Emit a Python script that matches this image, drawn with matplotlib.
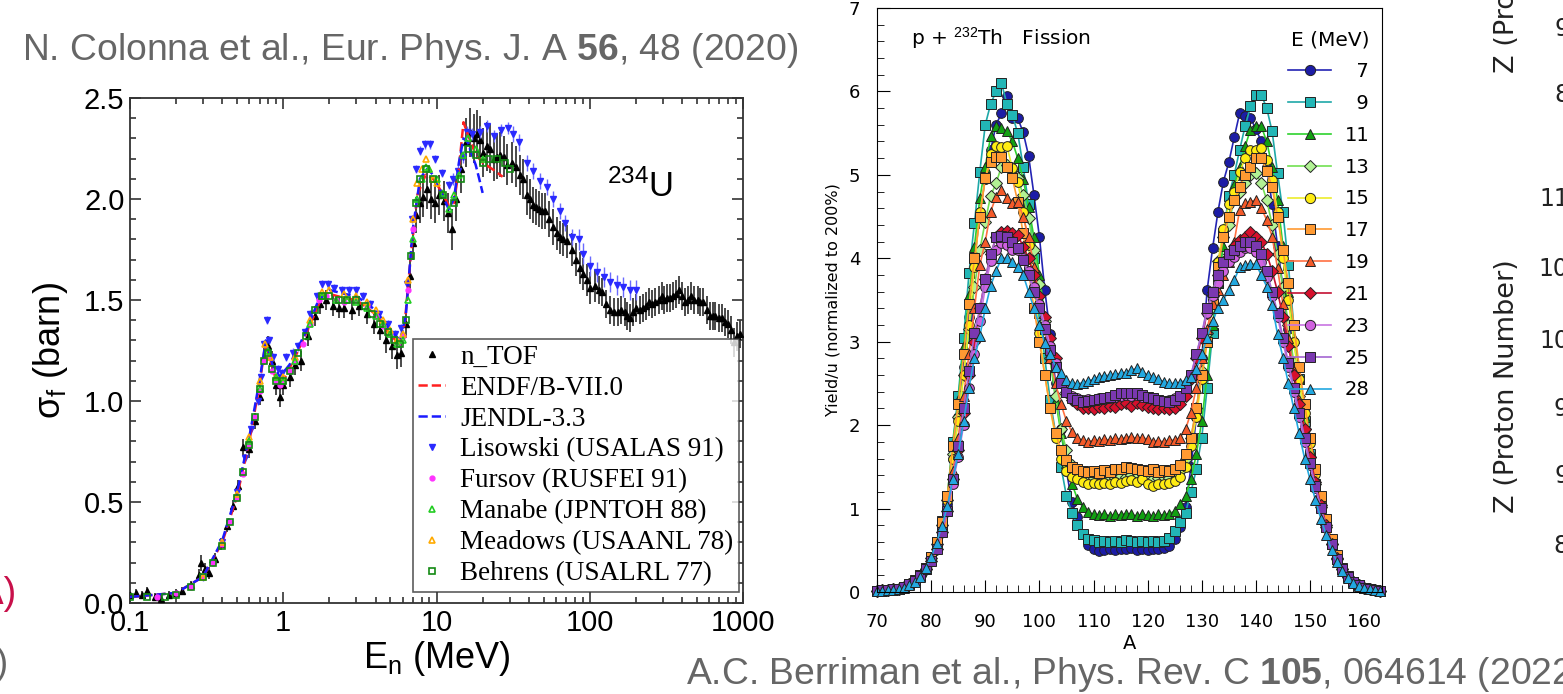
import matplotlib.pyplot as plt
from matplotlib.ticker import MultipleLocator, FuncFormatter, LogLocator, NullFormatter

plt.rcParams['mathtext.fontset'] = 'custom'
plt.rcParams['mathtext.rm'] = 'Liberation Sans'
plt.rcParams['mathtext.it'] = 'Liberation Sans:italic'
plt.rcParams['mathtext.bf'] = 'Liberation Sans:bold'

# ---------------- left panel: 234U(n,f) cross section ----------------
ntof_e = [0.1, 0.11, 0.12, 0.13, 0.145, 0.16, 0.18, 0.2, 0.22, 0.25,
          0.28, 0.29, 0.31, 0.33, 0.36, 0.39, 0.43, 0.47, 0.51, 0.55,
          0.6, 0.65, 0.7, 0.75, 0.8, 0.85, 0.9, 0.95, 1.0, 1.1,
          1.2, 1.3, 1.45, 1.6, 1.75, 1.9, 2.1, 2.3, 2.5, 2.8,
          3.1, 3.5, 3.9, 4.3, 4.7, 5.1, 5.5, 5.9, 6.3, 6.7,
          7.0, 7.4, 7.8, 8.2, 8.7, 9.2, 9.8, 10.4, 11.2, 11.8,
          12.6, 13.5, 14.5, 15.5, 16.6, 17.5, 18.3, 19.2, 20.1, 21.3,
          22.4, 23.6, 24.8, 26, 27.4, 29, 30.9, 33, 35, 36.8,
          38.7, 40.6, 42.8, 44.8, 46.8, 48.9, 51, 54, 57.7, 61,
          64, 67, 70.7, 76.4, 81, 85.8, 90, 95.4, 101, 108,
          115, 121, 128, 135, 143, 153, 161, 170, 176, 183,
          191, 200, 212, 224, 234, 245, 256, 268, 281, 295,
          307, 320, 335, 350, 367, 385, 402, 420, 440, 460,
          482, 505, 527, 550, 580, 610, 635, 660, 695, 730,
          765, 800, 840, 880, 920, 960]
ntof_xs = [0.04, 0.05, 0.04, 0.06, 0.03, 0.02, 0.04, 0.05, 0.06, 0.09,
           0.14, 0.20, 0.17, 0.15, 0.22, 0.29, 0.38, 0.48, 0.58, 0.77,
           0.76, 0.90, 1.02, 1.22, 1.27, 1.20, 1.08, 1.02, 1.08, 1.12,
           1.18, 1.20, 1.32, 1.42, 1.48, 1.50, 1.47, 1.46, 1.46, 1.45,
           1.47, 1.43, 1.38, 1.35, 1.30, 1.27, 1.23, 1.24, 1.38, 1.62,
           1.78, 1.92, 1.98, 2.01, 2.05, 2.00, 1.98, 2.02, 1.99, 1.93,
           1.85, 2.00, 2.15, 2.28, 2.33, 2.30, 2.32, 2.29, 2.23, 2.26,
           2.25, 2.20, 2.21, 2.22, 2.21, 2.17, 2.18, 2.16, 2.12, 2.10,
           2.02, 2.00, 1.97, 1.96, 1.95, 1.94, 1.94, 1.90, 1.86, 1.83,
           1.81, 1.80, 1.79, 1.75, 1.70, 1.66, 1.63, 1.60, 1.56, 1.57,
           1.55, 1.54, 1.48, 1.45, 1.44, 1.44, 1.45, 1.44, 1.42, 1.41,
           1.44, 1.46, 1.45, 1.46, 1.47, 1.49, 1.48, 1.49, 1.50, 1.52,
           1.50, 1.51, 1.51, 1.52, 1.53, 1.55, 1.52, 1.49, 1.50, 1.52,
           1.50, 1.50, 1.49, 1.49, 1.45, 1.42, 1.42, 1.42, 1.41, 1.41,
           1.39, 1.38, 1.35, 1.29, 1.32, 1.33]
ntof_err = [0.02, 0.02, 0.02, 0.02, 0.02, 0.02, 0.02, 0.02, 0.02, 0.02,
            0.03, 0.04, 0.03, 0.03, 0.03, 0.03, 0.03, 0.03, 0.03, 0.04,
            0.04, 0.04, 0.04, 0.04, 0.05, 0.05, 0.05, 0.05, 0.05, 0.05,
            0.05, 0.05, 0.05, 0.05, 0.05, 0.05, 0.05, 0.05, 0.05, 0.05,
            0.05, 0.05, 0.05, 0.05, 0.06, 0.06, 0.07, 0.07, 0.07, 0.08,
            0.08, 0.09, 0.10, 0.10, 0.10, 0.10, 0.10, 0.10, 0.10, 0.10,
            0.10, 0.11, 0.12, 0.12, 0.12, 0.12, 0.12, 0.12, 0.12, 0.12,
            0.12, 0.11, 0.11, 0.11, 0.10, 0.10, 0.10, 0.10, 0.10, 0.10,
            0.10, 0.10, 0.09, 0.09, 0.09, 0.09, 0.09, 0.09, 0.09, 0.08,
            0.08, 0.08, 0.08, 0.08, 0.08, 0.08, 0.08, 0.08, 0.08, 0.08,
            0.07, 0.07, 0.07, 0.07, 0.07, 0.07, 0.07, 0.07, 0.07, 0.07,
            0.07, 0.07, 0.07, 0.07, 0.07, 0.07, 0.07, 0.07, 0.07, 0.07,
            0.07, 0.07, 0.07, 0.07, 0.07, 0.07, 0.07, 0.07, 0.07, 0.07,
            0.07, 0.07, 0.07, 0.07, 0.07, 0.07, 0.07, 0.07, 0.07, 0.07,
            0.07, 0.07, 0.07, 0.07, 0.07, 0.07]

endf_e = [0.1, 0.2, 0.3, 0.4, 0.5, 0.6, 0.7, 0.76, 0.8, 0.9, 1.0, 1.2, 1.5, 1.8, 2.0,
          2.5, 3.0, 4.0, 5.0, 5.7, 6.2, 6.8, 7.5, 8.5, 9.5, 10.5, 12, 13, 14, 15,
          16, 18, 20, 24, 27]
endf_xs = [0.03, 0.05, 0.13, 0.30, 0.53, 0.80, 1.08, 1.27, 1.24, 1.10, 1.10, 1.22, 1.38, 1.52, 1.53,
           1.51, 1.50, 1.43, 1.33, 1.28, 1.38, 1.72, 2.02, 2.12, 2.10, 2.05, 1.97, 1.98, 2.15, 2.38,
           2.32, 2.22, 2.18, 2.14, 2.11]

jendl_e = [0.1, 0.2, 0.3, 0.4, 0.5, 0.6, 0.7, 0.77, 0.85, 0.95, 1.1, 1.4, 1.7, 2.0, 2.5,
           3.0, 4.0, 5.0, 5.8, 6.3, 7.0, 7.8, 8.7, 9.5, 10.5, 12, 13, 14, 15, 16,
           17, 18, 19, 20]
jendl_xs = [0.03, 0.05, 0.13, 0.31, 0.55, 0.82, 1.10, 1.30, 1.18, 1.12, 1.18, 1.34, 1.50, 1.55, 1.53,
            1.52, 1.45, 1.35, 1.30, 1.42, 1.85, 2.10, 2.15, 2.12, 2.05, 1.95, 2.00, 2.18, 2.30, 2.28,
            2.22, 2.17, 2.10, 2.03]

lis_e = [0.3, 0.4, 0.5, 0.56, 0.62, 0.68, 0.72, 0.75, 0.78, 0.81,
         0.86, 0.92, 0.98, 1.05, 1.15, 1.25, 1.38, 1.5, 1.65, 1.8,
         1.95, 2.15, 2.4, 2.7, 3.0, 3.3, 3.7, 4.2, 4.8, 5.4,
         5.9, 6.4, 6.9, 7.4, 7.8, 8.4, 9.1, 9.8, 10.8, 12.0,
         12.8, 13.9, 14.9, 15.9, 17.0, 19.2, 21.3, 23.9, 26.5, 29.3,
         31.6, 34.6, 38.7, 42.8, 47.3, 52.3, 57.7, 64, 68.8, 76.4,
         84.5, 91, 101, 111, 123, 135, 150, 166, 183, 200]
lis_xs = [0.13, 0.30, 0.55, 0.72, 0.86, 1.00, 1.12, 1.28, 1.40, 1.30,
          1.22, 1.16, 1.14, 1.22, 1.24, 1.27, 1.34, 1.43, 1.52, 1.58,
          1.58, 1.56, 1.55, 1.55, 1.55, 1.52, 1.48, 1.43, 1.38, 1.33,
          1.36, 1.58, 1.90, 2.15, 2.24, 2.27, 2.27, 2.20, 2.13, 2.07,
          2.10, 2.14, 2.21, 2.33, 2.32, 2.33, 2.36, 2.31, 2.34, 2.35,
          2.32, 2.28, 2.18, 2.14, 2.09, 2.06, 2.00, 1.94, 1.88, 1.81,
          1.80, 1.73, 1.67, 1.64, 1.615, 1.59, 1.575, 1.566, 1.55, 1.55]
lis_err = [0.02, 0.02, 0.02, 0.02, 0.02, 0.02, 0.02, 0.02, 0.02, 0.02,
           0.02, 0.02, 0.02, 0.02, 0.02, 0.02, 0.02, 0.02, 0.02, 0.02,
           0.02, 0.02, 0.02, 0.02, 0.02, 0.02, 0.02, 0.02, 0.02, 0.02,
           0.02, 0.02, 0.02, 0.02, 0.02, 0.02, 0.02, 0.02, 0.02, 0.02,
           0.03, 0.03, 0.03, 0.03, 0.03, 0.03, 0.03, 0.03, 0.03, 0.03,
           0.04, 0.04, 0.04, 0.04, 0.04, 0.04, 0.04, 0.04, 0.04, 0.04,
           0.05, 0.05, 0.05, 0.05, 0.05, 0.05, 0.05, 0.05, 0.05, 0.05]

fursov_e = [0.15, 0.2, 0.25, 0.3, 0.35, 0.4, 0.45, 0.5, 0.55, 0.6,
            0.65, 0.7, 0.75, 0.8, 0.85, 0.9, 0.95, 1.0, 1.1, 1.2,
            1.35, 1.5, 1.7, 1.9, 2.2, 2.5, 3.0, 3.5, 4.0, 4.5,
            5.0, 5.5, 6.0, 6.5, 7.0]
fursov_xs = [0.03, 0.05, 0.08, 0.13, 0.20, 0.29, 0.40, 0.52, 0.64, 0.78,
             0.92, 1.05, 1.20, 1.22, 1.15, 1.10, 1.08, 1.10, 1.15, 1.20,
             1.28, 1.38, 1.50, 1.52, 1.50, 1.49, 1.50, 1.47, 1.42, 1.37,
             1.33, 1.28, 1.32, 1.55, 1.85]

manabe_e = [0.6, 0.7, 0.8, 0.9, 1.0, 1.2, 1.5, 1.8, 2.2, 2.6,
            3.0, 3.5, 4.0, 4.5, 5.0, 5.5, 6.0, 6.5, 7.0, 7.5,
            8.0, 8.5, 9.0, 10, 11, 12, 13, 14, 15, 16, 18, 20]
manabe_xs = [0.80, 1.06, 1.25, 1.12, 1.10, 1.20, 1.38, 1.52, 1.50, 1.50,
             1.49, 1.46, 1.42, 1.38, 1.33, 1.28, 1.30, 1.50, 1.80, 2.00,
             2.10, 2.16, 2.15, 2.10, 2.03, 1.95, 2.02, 2.12, 2.22, 2.30, 2.25, 2.20]

meadows_e = [0.3, 0.4, 0.5, 0.6, 0.7, 0.76, 0.82, 0.9, 1.0, 1.2,
             1.5, 1.8, 2.0, 2.5, 3.0, 3.5, 4.0, 4.5, 5.0, 5.5,
             6.0, 6.5, 7.0, 7.5, 8.0, 8.5, 9.0, 9.5, 10]
meadows_xs = [0.13, 0.30, 0.54, 0.82, 1.10, 1.28, 1.22, 1.12, 1.12, 1.22,
              1.40, 1.54, 1.55, 1.53, 1.52, 1.49, 1.45, 1.40, 1.35, 1.30,
              1.33, 1.60, 1.90, 2.08, 2.15, 2.20, 2.15, 2.10, 2.08]

behrens_e = [0.1, 0.13, 0.17, 0.2, 0.25, 0.3, 0.35, 0.4, 0.45, 0.5,
             0.55, 0.6, 0.65, 0.7, 0.75, 0.8, 0.85, 0.9, 1.0, 1.1,
             1.25, 1.4, 1.6, 1.8, 2.0, 2.3, 2.6, 3.0, 3.4, 3.8,
             4.3, 4.8, 5.3, 5.8, 6.3, 6.8, 7.3, 7.8, 8.5, 9.5,
             11, 13, 14.5, 16, 18, 20, 22, 25, 28, 30]
behrens_xs = [0.03, 0.03, 0.03, 0.04, 0.08, 0.13, 0.20, 0.28, 0.40, 0.52,
              0.65, 0.78, 0.92, 1.06, 1.20, 1.24, 1.16, 1.10, 1.10, 1.15,
              1.24, 1.32, 1.45, 1.52, 1.52, 1.50, 1.50, 1.50, 1.47, 1.43,
              1.38, 1.34, 1.30, 1.28, 1.40, 1.72, 1.98, 2.10, 2.15, 2.10,
              2.02, 1.98, 2.10, 2.25, 2.22, 2.18, 2.20, 2.20, 2.18, 2.15]

# ---------------- middle panel: p + 232Th mass yields ----------------
mass_a = list(range(70, 164))
energies = [7, 9, 11, 13, 15, 17, 19, 21, 23, 25, 28]

y7 = [0.01, 0.01, 0.02, 0.03, 0.04, 0.06, 0.09, 0.13, 0.19, 0.28,
      0.40, 0.56, 0.78, 1.05, 1.60, 2.10, 2.70, 3.30, 3.95, 4.55,
      4.95, 5.30, 5.60, 5.74, 5.94, 5.68, 5.68, 5.51, 5.23, 4.76,
      4.26, 3.62, 3.09, 2.50, 1.95, 1.45, 1.08, 0.90, 0.70, 0.56,
      0.52, 0.49, 0.50, 0.51, 0.50, 0.52, 0.51, 0.53, 0.50, 0.51,
      0.50, 0.52, 0.51, 0.53, 0.55, 0.63, 0.78, 1.02, 1.50, 2.10,
      2.80, 3.62, 4.12, 4.56, 4.92, 5.15, 5.45, 5.74, 5.70, 5.68,
      5.55, 5.40, 5.10, 4.65, 4.15, 3.65, 3.15, 2.70, 2.30, 1.95,
      1.62, 1.32, 1.05, 0.80, 0.58, 0.40, 0.27, 0.18, 0.12, 0.08,
      0.05, 0.03, 0.02, 0.01]
y9 = [0.01, 0.02, 0.02, 0.03, 0.04, 0.06, 0.09, 0.13, 0.20, 0.29,
      0.42, 0.60, 0.85, 1.15, 1.80, 2.35, 3.05, 3.82, 4.42, 5.04,
      5.60, 5.85, 6.00, 6.10, 5.85, 5.72, 5.50, 5.10, 4.65, 4.00,
      3.35, 2.80, 2.30, 1.90, 1.50, 1.15, 0.95, 0.80, 0.70, 0.64,
      0.62, 0.60, 0.61, 0.60, 0.61, 0.60, 0.62, 0.61, 0.60, 0.61,
      0.60, 0.61, 0.60, 0.61, 0.65, 0.73, 0.84, 0.95, 1.20, 1.47,
      1.85, 2.45, 3.10, 3.70, 4.30, 4.75, 5.00, 5.30, 5.58, 5.82,
      5.96, 5.96, 5.80, 5.52, 5.02, 4.55, 3.92, 3.20, 2.55, 2.05,
      1.65, 1.30, 1.02, 0.78, 0.57, 0.40, 0.27, 0.18, 0.12, 0.08,
      0.05, 0.03, 0.02, 0.01]
y11 = [0.01, 0.02, 0.02, 0.03, 0.04, 0.06, 0.09, 0.14, 0.20, 0.29,
       0.42, 0.60, 0.84, 1.15, 1.78, 2.30, 2.95, 3.56, 4.14, 4.72,
       5.10, 5.46, 5.58, 5.56, 5.52, 5.40, 5.20, 4.95, 4.62, 4.25,
       3.80, 3.30, 2.80, 2.30, 1.90, 1.55, 1.30, 1.12, 1.02, 0.96,
       0.93, 0.92, 0.94, 0.91, 0.93, 0.92, 0.94, 0.93, 0.91, 0.93,
       0.92, 0.91, 0.93, 0.92, 0.94, 0.97, 1.05, 1.15, 1.35, 1.65,
       2.05, 2.60, 3.20, 3.70, 4.15, 4.50, 4.88, 5.10, 5.34, 5.54,
       5.58, 5.58, 5.40, 5.10, 4.70, 4.15, 3.60, 3.05, 2.55, 2.10,
       1.70, 1.35, 1.05, 0.80, 0.58, 0.40, 0.27, 0.18, 0.12, 0.08,
       0.05, 0.03, 0.02, 0.01]
y13 = [0.01, 0.02, 0.02, 0.03, 0.04, 0.06, 0.09, 0.13, 0.19, 0.28,
       0.41, 0.58, 0.80, 1.10, 1.65, 2.10, 2.60, 3.15, 3.65, 4.10,
       4.44, 4.75, 4.90, 5.10, 5.12, 5.06, 4.96, 4.76, 4.48, 4.10,
       3.69, 3.25, 2.80, 2.35, 1.95, 1.70, 1.52, 1.45, 1.40, 1.38,
       1.37, 1.38, 1.36, 1.38, 1.37, 1.39, 1.38, 1.40, 1.38, 1.37,
       1.38, 1.36, 1.37, 1.38, 1.37, 1.40, 1.45, 1.60, 1.85, 2.20,
       2.65, 3.10, 3.55, 3.97, 4.25, 4.40, 4.72, 4.80, 4.90, 5.00,
       5.02, 4.90, 4.70, 4.40, 4.05, 3.65, 3.20, 2.75, 2.35, 1.95,
       1.62, 1.30, 1.02, 0.78, 0.57, 0.40, 0.27, 0.18, 0.12, 0.08,
       0.05, 0.03, 0.02, 0.01]
y15 = [0.01, 0.02, 0.02, 0.03, 0.04, 0.06, 0.09, 0.13, 0.19, 0.28,
       0.41, 0.58, 0.80, 1.10, 1.60, 2.05, 2.60, 3.20, 3.90, 4.55,
       4.95, 5.25, 5.35, 5.33, 5.35, 5.08, 4.92, 4.56, 4.16, 3.65,
       3.10, 2.60, 2.20, 1.85, 1.60, 1.45, 1.38, 1.35, 1.32, 1.30,
       1.31, 1.29, 1.31, 1.30, 1.32, 1.31, 1.33, 1.34, 1.32, 1.35,
       1.30, 1.27, 1.29, 1.30, 1.31, 1.33, 1.38, 1.50, 1.75, 2.10,
       2.55, 3.00, 3.50, 3.95, 4.35, 4.65, 4.80, 5.03, 5.20, 5.30,
       5.30, 5.32, 5.18, 4.94, 4.56, 4.00, 3.50, 3.00, 2.55, 2.15,
       1.78, 1.42, 1.10, 0.84, 0.60, 0.42, 0.28, 0.18, 0.12, 0.08,
       0.05, 0.03, 0.02, 0.01]
y17 = [0.01, 0.02, 0.02, 0.03, 0.04, 0.06, 0.09, 0.14, 0.20, 0.29,
       0.42, 0.60, 0.84, 1.15, 1.75, 2.25, 2.85, 3.45, 4.00, 4.49,
       4.96, 5.16, 5.22, 5.22, 5.10, 4.96, 4.68, 4.30, 3.85, 3.40,
       3.00, 2.60, 2.20, 1.90, 1.70, 1.58, 1.50, 1.47, 1.45, 1.44,
       1.45, 1.43, 1.46, 1.44, 1.48, 1.47, 1.50, 1.49, 1.48, 1.46,
       1.45, 1.47, 1.44, 1.46, 1.45, 1.47, 1.52, 1.65, 1.85, 2.20,
       2.60, 3.00, 3.45, 3.90, 4.25, 4.50, 4.70, 4.85, 5.00, 5.10,
       5.20, 5.20, 5.05, 4.85, 4.50, 4.10, 3.70, 3.20, 2.70, 2.25,
       1.85, 1.48, 1.15, 0.87, 0.63, 0.44, 0.29, 0.19, 0.12, 0.08,
       0.05, 0.03, 0.02, 0.01]
y19 = [0.01, 0.02, 0.02, 0.03, 0.04, 0.06, 0.09, 0.13, 0.19, 0.27,
       0.38, 0.55, 0.75, 1.00, 1.45, 1.85, 2.35, 2.85, 3.40, 3.92,
       4.20, 4.56, 4.74, 4.82, 4.72, 4.66, 4.68, 4.50, 4.25, 3.90,
       3.50, 3.15, 2.80, 2.50, 2.25, 2.05, 1.92, 1.85, 1.82, 1.80,
       1.82, 1.81, 1.83, 1.82, 1.84, 1.83, 1.85, 1.86, 1.84, 1.85,
       1.83, 1.80, 1.81, 1.80, 1.82, 1.82, 1.85, 1.95, 2.15, 2.45,
       2.80, 3.15, 3.45, 3.62, 3.80, 3.96, 4.20, 4.58, 4.66, 4.68,
       4.70, 4.60, 4.46, 4.26, 3.88, 3.45, 3.05, 2.65, 2.30, 1.95,
       1.62, 1.32, 1.04, 0.80, 0.58, 0.41, 0.28, 0.18, 0.12, 0.08,
       0.05, 0.03, 0.02, 0.01]
y21 = [0.01, 0.02, 0.02, 0.03, 0.04, 0.06, 0.09, 0.13, 0.19, 0.27,
       0.37, 0.52, 0.72, 0.97, 1.35, 1.70, 2.15, 2.60, 3.00, 3.40,
       3.75, 4.05, 4.25, 4.32, 4.33, 4.30, 4.28, 4.14, 4.00, 3.80,
       3.55, 3.30, 3.05, 2.80, 2.55, 2.40, 2.30, 2.25, 2.20, 2.21,
       2.19, 2.22, 2.20, 2.23, 2.22, 2.25, 2.26, 2.23, 2.27, 2.24,
       2.22, 2.21, 2.19, 2.20, 2.19, 2.21, 2.25, 2.35, 2.55, 2.80,
       3.05, 3.35, 3.60, 3.80, 3.95, 4.05, 4.15, 4.22, 4.26, 4.32,
       4.26, 4.20, 4.05, 3.85, 3.60, 3.30, 2.95, 2.60, 2.25, 1.95,
       1.62, 1.32, 1.04, 0.80, 0.58, 0.41, 0.28, 0.18, 0.12, 0.08,
       0.05, 0.03, 0.02, 0.01]
y23 = [0.01, 0.02, 0.02, 0.03, 0.04, 0.06, 0.09, 0.13, 0.19, 0.27,
       0.37, 0.52, 0.72, 0.97, 1.30, 1.62, 2.00, 2.45, 2.85, 3.25,
       3.65, 3.97, 4.10, 4.18, 4.16, 4.10, 4.10, 4.00, 3.85, 3.65,
       3.45, 3.20, 2.95, 2.75, 2.55, 2.42, 2.35, 2.32, 2.30, 2.31,
       2.30, 2.32, 2.31, 2.33, 2.34, 2.35, 2.36, 2.35, 2.36, 2.34,
       2.33, 2.31, 2.30, 2.29, 2.30, 2.32, 2.35, 2.45, 2.60, 2.85,
       3.10, 3.35, 3.55, 3.70, 3.85, 3.95, 4.02, 4.08, 4.12, 4.12,
       4.08, 3.95, 3.78, 3.55, 3.30, 3.00, 2.70, 2.40, 2.10, 1.80,
       1.52, 1.25, 1.00, 0.77, 0.56, 0.40, 0.27, 0.18, 0.12, 0.08,
       0.05, 0.03, 0.02, 0.01]
y25 = [0.01, 0.02, 0.02, 0.03, 0.04, 0.06, 0.09, 0.13, 0.19, 0.27,
       0.37, 0.52, 0.72, 0.97, 1.35, 1.75, 2.20, 2.65, 3.10, 3.40,
       3.75, 4.05, 4.25, 4.27, 4.25, 4.20, 4.12, 3.98, 3.80, 3.60,
       3.40, 3.15, 2.90, 2.70, 2.50, 2.40, 2.33, 2.30, 2.28, 2.29,
       2.30, 2.31, 2.33, 2.34, 2.36, 2.38, 2.39, 2.38, 2.38, 2.36,
       2.34, 2.32, 2.30, 2.29, 2.28, 2.30, 2.35, 2.45, 2.60, 2.85,
       3.10, 3.40, 3.60, 3.80, 3.95, 4.05, 4.10, 4.15, 4.20, 4.20,
       4.15, 4.05, 3.85, 3.60, 3.35, 3.05, 2.75, 2.45, 2.15, 1.85,
       1.55, 1.27, 1.01, 0.78, 0.57, 0.40, 0.27, 0.18, 0.12, 0.08,
       0.05, 0.03, 0.02, 0.01]
y28 = [0.01, 0.01, 0.02, 0.02, 0.03, 0.05, 0.08, 0.12, 0.18, 0.29,
       0.42, 0.59, 0.79, 1.03, 1.35, 1.65, 2.05, 2.45, 2.80, 3.07,
       3.40, 3.67, 3.85, 4.00, 4.00, 3.96, 3.90, 3.80, 3.60, 3.40,
       3.20, 2.98, 2.85, 2.70, 2.62, 2.54, 2.50, 2.49, 2.51, 2.53,
       2.55, 2.58, 2.59, 2.60, 2.61, 2.62, 2.63, 2.66, 2.68, 2.64,
       2.60, 2.58, 2.55, 2.52, 2.50, 2.50, 2.51, 2.54, 2.58, 2.67,
       2.85, 3.05, 3.25, 3.40, 3.50, 3.62, 3.74, 3.89, 3.92, 3.93,
       3.93, 3.80, 3.66, 3.44, 3.09, 2.81, 2.50, 2.20, 1.90, 1.60,
       1.35, 1.10, 0.88, 0.68, 0.50, 0.36, 0.25, 0.17, 0.11, 0.07,
       0.05, 0.03, 0.02, 0.01]
yields = [y7, y9, y11, y13, y15, y17, y19, y21, y23, y25, y28]

# marker, face colour, line colour
styles = [('o', '#1c1ca6', '#2424b4'),
          ('s', '#22b6b6', '#1fa8a8'),
          ('^', '#12a012', '#2ed22e'),
          ('D', '#b2f294', '#72e052'),
          ('o', '#ffec12', '#ecec2c'),
          ('s', '#ff9a32', '#ff9a32'),
          ('^', '#f45a2a', '#ff7042'),
          ('D', '#d6102c', '#c41032'),
          ('o', '#d062e0', '#c874e2'),
          ('s', '#7a38b0', '#a466d2'),
          ('^', '#22a8e0', '#22a8e0')]

fig = plt.figure(figsize=(15.63, 6.94), dpi=100)

# ---- left panel
ax1 = fig.add_axes([130/1563, 1-603/694, 613/1563, 505/694])
ax1.set_xscale('log')
h_ntof = ax1.errorbar(ntof_e, ntof_xs, yerr=ntof_err, fmt='^', color='k', ms=4,
                      ecolor='#3a3a3a', elinewidth=1.3, capsize=0, zorder=3)
h_lis = ax1.errorbar(lis_e, lis_xs, yerr=lis_err, fmt='v', color='#2a2aff', ms=4,
                     ecolor='#6a6aff', elinewidth=1.0, capsize=0, zorder=4)
h_endf, = ax1.plot(endf_e, endf_xs, '--', color='#ff2020', lw=1.8, zorder=5)
h_jendl, = ax1.plot(jendl_e, jendl_xs, '--', color='#1a1aff', lw=1.8, zorder=5)
h_fur, = ax1.plot(fursov_e, fursov_xs, 'o', color='#ff33ff', ms=3.5, zorder=6)
h_mea, = ax1.plot(meadows_e, meadows_xs, '^', mfc='none', mec='#ffaa00', mew=1.2, ms=5, zorder=6)
h_man, = ax1.plot(manabe_e, manabe_xs, '^', mfc='none', mec='#22cc22', mew=1.2, ms=5, zorder=7)
h_beh, = ax1.plot(behrens_e, behrens_xs, 's', mfc='none', mec='#138a13', mew=1.2, ms=4, zorder=7)
ax1.set_xlim(0.1, 1000)
ax1.set_ylim(0, 2.5)
ax1.xaxis.set_major_formatter(FuncFormatter(lambda v, p: f'{v:g}'))
ax1.xaxis.set_minor_locator(LogLocator(base=10, subs=range(2, 10)))
ax1.xaxis.set_minor_formatter(NullFormatter())
ax1.yaxis.set_major_locator(MultipleLocator(0.5))
ax1.yaxis.set_minor_locator(MultipleLocator(0.1))
ax1.yaxis.set_major_formatter(FuncFormatter(lambda v, p: f'{v:.1f}'))
ax1.tick_params(which='both', direction='in', top=True, right=True, colors='#333333',
                labelcolor='black', width=1.2)
ax1.tick_params(which='major', length=8, labelsize=21, pad=4)
ax1.tick_params(which='minor', length=4)
for lbl in ax1.get_xticklabels() + ax1.get_yticklabels():
    lbl.set_fontfamily('Liberation Sans')
for sp in ax1.spines.values():
    sp.set_linewidth(1.3)
    sp.set_color('#333333')
ax1.set_xlabel(r'E$_\mathrm{n}$ (MeV)', fontsize=26, family='Liberation Sans', labelpad=2)
ax1.set_ylabel('σ$_\\mathrm{f}$ (barn)', fontsize=26, family='Liberation Sans', labelpad=10)
ax1.text(0.778, 0.805, r'$^{234}$U', transform=ax1.transAxes, fontsize=25,
         family='Liberation Sans', va='baseline')
# legend uses the marker lines only (no error bars in the key)
leg1 = ax1.legend([h_ntof[0], h_endf, h_jendl, h_lis[0], h_fur, h_man, h_mea, h_beh],
                  ['n_TOF', 'ENDF/B-VII.0', 'JENDL-3.3', 'Lisowski (USALAS 91)',
                   'Fursov (RUSFEI 91)', 'Manabe (JPNTOH 88)', 'Meadows (USAANL 78)',
                   'Behrens (USALRL 77)'],
                  loc='lower right', bbox_to_anchor=(0.993, 0.022), fancybox=False,
                  prop={'family': 'Liberation Serif', 'size': 19.5}, handlelength=1.0,
                  handletextpad=0.55, labelspacing=0.22, borderpad=0.2, borderaxespad=0)
leg1.get_frame().set_edgecolor('#333333')
leg1.get_frame().set_linewidth(1.2)

# ---- middle panel
ax2 = fig.add_axes([877/1563, 1-592/694, 505/1563, 584/694])
for e, y, (mk, fc, lc) in zip(energies, yields, styles):
    ms = 6 if mk == 'D' else 7
    ax2.plot(mass_a, y, marker=mk, color=lc, mfc=fc, mec='#222222', mew=0.7, ms=ms, lw=1.2,
             clip_on=False, label=str(e).rjust(2, '\u2007'))
ax2.set_xlim(70, 163.3)
ax2.set_ylim(0, 7)
ax2.xaxis.set_major_locator(MultipleLocator(10))
ax2.xaxis.set_minor_locator(MultipleLocator(2))
ax2.yaxis.set_major_locator(MultipleLocator(1))
ax2.yaxis.set_minor_locator(MultipleLocator(0.2))
ax2.tick_params(which='both', direction='in', labelsize=13)
ax2.tick_params(axis='x', which='major', length=9, pad=15)
ax2.tick_params(axis='x', which='minor', length=5)
ax2.tick_params(axis='y', which='major', length=9, pad=12)
ax2.tick_params(axis='y', which='minor', length=5)
ax2.set_xlabel('A', fontsize=14, labelpad=2)
ax2.set_ylabel('Yield/u (normalized to 200%)', fontsize=11.5, labelpad=6)
ax2.text(0.067, 0.949, r'p + $^{232}$Th   Fission', transform=ax2.transAxes, fontsize=14.5,
         va='center')
leg2 = ax2.legend(title='E (MeV)', loc='upper right', bbox_to_anchor=(0.975, 0.962),
                  frameon=False, fontsize=14, title_fontsize=14.5, labelspacing=0.66,
                  handlelength=2.2, handletextpad=0.7, borderpad=0, borderaxespad=0,
                  markerscale=1.05, alignment='right')

# ---- slide texts
gray = '#666666'
fig.text(22/1563, 1-50/694, r'N. Colonna et al., Eur. Phys. J. A $\mathbf{56}$, 48 (2020)',
         fontsize=26.8, family='Liberation Sans', color=gray, va='center')
fig.text(686/1563, 1-675/694, r'A.C. Berriman et al., Phys. Rev. C $\mathbf{105}$, 064614 (2022)',
         fontsize=26.8, family='Liberation Sans', color=gray, va='center')
fig.text(17/1563, 1-594/694, '(A)', fontsize=27, family='Liberation Sans', color='#c8104a',
         ha='right', va='center')
fig.text(8/1563, 1-665/694, ')', fontsize=26, family='Liberation Sans', color=gray,
         ha='right', va='center')

# clipped pieces of the next panel on the slide
fig.text(1507/1563, 1-73/694, 'Z (Proton Number)', rotation=90, fontsize=19.5,
         color='#222222', ha='center', va='bottom')
fig.text(1507/1563, 1-513/694, 'Z (Proton Number)', rotation=90, fontsize=19.5,
         color='#222222', ha='center', va='bottom')
top_ticks = ['90', '80']
top_tick_y = [29, 95]
for t, yy in zip(top_ticks, top_tick_y):
    fig.text(1584/1563, 1-yy/694, t, fontsize=17, color='#222222', ha='right', va='center')
z_ticks = ['110', '105', '100', '95', '90', '85']
z_tick_y = [199, 269, 341, 409, 476, 546]
for t, yy in zip(z_ticks, z_tick_y):
    fig.text(1584/1563, 1-yy/694, t, fontsize=17, color='#222222', ha='right', va='center')

fig.savefig('out.png', dpi=100)
